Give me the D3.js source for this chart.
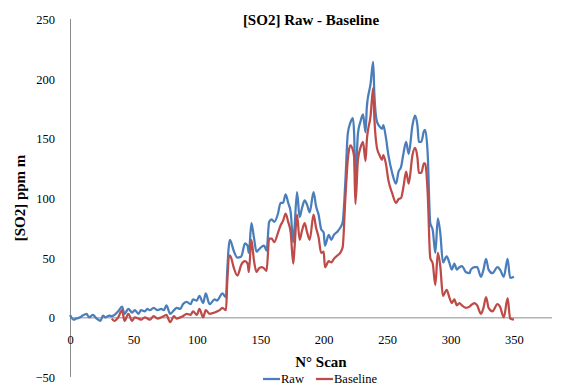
<!DOCTYPE html>
<html>
<head>
<meta charset="utf-8">
<script src="https://cdn.jsdelivr.net/npm/d3@7"></script>
<style>
  html, body { margin: 0; padding: 0; background: #fff; }
  svg { display: block; font-family: "Liberation Serif", "Times New Roman", serif; }
  .axis path { stroke: #8c8c8c; stroke-width: 1; }
  .axis text { font-family: "Liberation Serif", "Times New Roman", serif; font-size: 12.5px; fill: #000; }
  .chart-title, .axis-label { font-size: 15px; font-weight: bold; fill: #000; }
  .legend text { font-size: 12.5px; fill: #000; }
</style>
</head>
<body>
<div id="chart"></div>
<script>
// Scan numbers shared by both series
const scans = [
  0, 3, 5, 8, 10, 13, 15, 18, 21, 24, 26, 28, 31, 33, 35, 38, 41, 43, 46, 49,
  51, 54, 56, 59, 61, 63, 66, 69, 72, 74, 76, 79, 82, 84, 87, 89, 92, 95, 97, 100,
  102, 105, 107, 110, 114, 116, 118, 120, 123, 124, 126, 127, 129, 132, 135, 138, 140, 141, 143, 145,
  147, 149, 151, 153, 155, 157, 159, 161, 164, 166, 168, 170, 172, 174, 176, 177, 179, 181, 183, 185,
  187, 189, 192, 194, 196, 198, 200, 201, 204, 206, 208, 211, 213, 215, 217, 219, 221, 223, 224, 225,
  227, 229, 231, 233, 234, 237, 239, 240, 242, 244, 246, 247, 249, 251, 254, 257, 259, 261, 263, 265,
  267, 270, 272, 274, 275, 277, 279, 280, 282, 284, 286, 288, 290, 292, 294, 297, 299, 301, 303, 305,
  307, 309, 312, 315, 316, 319, 321, 324, 326, 328, 330, 333, 337, 339, 342, 345, 347, 350
];

const rawValues = [
  2, -2, -1, 0, 1.5, 3, 0, 2, -1, -3, 1.5, 0, 1.5, 1, 2, 5, 9, 3, 7, 4,
  6, 3, 6, 5, 7, 6, 8, 6, 7, 6, 10, 3, 6, 8, 7, 11, 13, 11, 15, 14,
  18, 12, 20, 11, 15, 14, 17, 20, 17, 40, 65, 63, 56, 50, 51, 62, 60, 54, 79, 67,
  55, 57, 59, 60, 56, 80, 82, 80, 87, 96, 96, 103, 96, 88, 63, 75, 105, 84, 92, 98,
  94, 88, 105, 93, 86, 74, 71, 60, 69, 65, 69, 72, 75, 80, 112, 154, 163, 167, 154, 114,
  154, 164, 170, 155, 176, 196, 214, 186, 164, 160, 158, 161, 151, 136, 121, 112, 122, 126, 138, 147,
  137, 161, 169, 160, 147, 147, 156, 157, 137, 79, 73, 54, 83, 70, 46, 51, 46, 40, 45, 40,
  42, 43, 38, 37, 40, 42, 42, 34, 40, 49, 40, 37, 42, 40, 34, 49, 33, 34
];

const baselineValues = [
  null, null, null, null, null, null, null, null, null, null, null, null, null, -1, -3, 0, 6, -3, 3, -3,
  0, -1, -2, 0, -1, -2, 1, -1, 0, 1, 2, -4, 1, -1, 0, 1, 3, 2, 5, 2,
  7, 0, 6, 3, 4, 5, 6, 8, 6, 30, 52, 50, 42, 35, 44, 47, 45, 38, 65, 48,
  38, 41, 42, 41, 39, 66, 66, 63, 71, 77, 81, 87, 80, 71, 45, 58, 86, 65, 73, 79,
  71, 65, 86, 75, 67, 54, 55, 42, 47, 46, 49, 52, 54, 59, 98, 132, 144, 140, 134, 95,
  132, 142, 147, 131, 148, 169, 192, 166, 142, 136, 132, 136, 129, 115, 104, 96, 99, 100, 110, 122,
  112, 136, 142, 133, 121, 121, 129, 129, 104, 50, 45, 27, 54, 42, 18, 23, 17, 12, 15, 10,
  12, 10, 8, 9, 10, 12, 10, 3, 8, 17, 8, 5, 11, 9, 0, 16, -1, -2
];

const seriesNames = ["Raw", "Baseline"];
const seriesColors = ["#4a7ebb", "#be4b48"];
const xTicks = [0, 50, 100, 150, 200, 250, 300, 350];
const yTicks = [-50, 0, 50, 100, 150, 200, 250];

const width = 578;
const height = 387;
const margin = { top: 19, right: 26, bottom: 10, left: 70 };

const svg = d3.select("#chart").append("svg")
  .attr("width", width)
  .attr("height", height);

const x = d3.scaleLinear().domain([0, 380]).range([margin.left, width - margin.right]);
const y = d3.scaleLinear().domain([-50, 250]).range([height - margin.bottom, margin.top]);

// Y axis sits at x = 0, no tick marks
svg.append("g")
  .attr("class", "axis axis-y")
  .attr("transform", `translate(${x(0)},0)`)
  .call(d3.axisLeft(y).tickValues(yTicks).tickSize(0).tickPadding(15).tickFormat(d3.format("d")))
  .call((g) => g.selectAll("text").attr("dy", "0.36em"));

// X axis crosses at y = 0, labels hang a bit below it
svg.append("g")
  .attr("class", "axis axis-x")
  .attr("transform", `translate(0,${y(0)})`)
  .call(d3.axisBottom(x).tickValues(xTicks).tickSize(0).tickPadding(18).tickFormat(d3.format("d")));

svg.selectAll(".axis path").attr("d", function () {
  return d3.select(this.parentNode).classed("axis-x")
    ? `M${x(0)},0.5H${x(380)}`
    : `M0.5,${y(250)}V${y(-50)}`;
});

// Lines
const rows = scans.map((s, i) => ({ scan: s, values: [rawValues[i], baselineValues[i]] }));

const lineFor = (k) => d3.line()
  .defined((d) => d.values[k] != null)
  .x((d) => x(d.scan))
  .y((d) => y(d.values[k]))
  .curve(d3.curveMonotoneX);

seriesNames.forEach((name, k) => {
  svg.append("path")
    .datum(rows)
    .attr("fill", "none")
    .attr("stroke", seriesColors[k])
    .attr("stroke-width", 2.25)
    .attr("stroke-linejoin", "round")
    .attr("d", lineFor(k));
});

// Titles
svg.append("text")
  .attr("class", "chart-title")
  .attr("x", 311)
  .attr("y", 25)
  .attr("text-anchor", "middle")
  .text("[SO2] Raw - Baseline");

svg.append("text")
  .attr("class", "axis-label")
  .attr("x", 321)
  .attr("y", 367)
  .attr("text-anchor", "middle")
  .text("N° Scan");

svg.append("text")
  .attr("class", "axis-label")
  .attr("transform", `translate(25,${(y(250) + y(-50)) / 2}) rotate(-90)`)
  .attr("text-anchor", "middle")
  .text("[SO2] ppm m");

// Legend
const legend = svg.append("g").attr("class", "legend").attr("transform", "translate(263,383)");
const legendX = [0, 53];
seriesNames.forEach((name, k) => {
  const g = legend.append("g").attr("transform", `translate(${legendX[k]},0)`);
  g.append("line")
    .attr("x1", 0).attr("x2", 17)
    .attr("y1", -4).attr("y2", -4)
    .attr("stroke", seriesColors[k])
    .attr("stroke-width", 2.25);
  g.append("text").attr("x", 18).attr("y", 0).text(name);
});
</script>
</body>
</html>
